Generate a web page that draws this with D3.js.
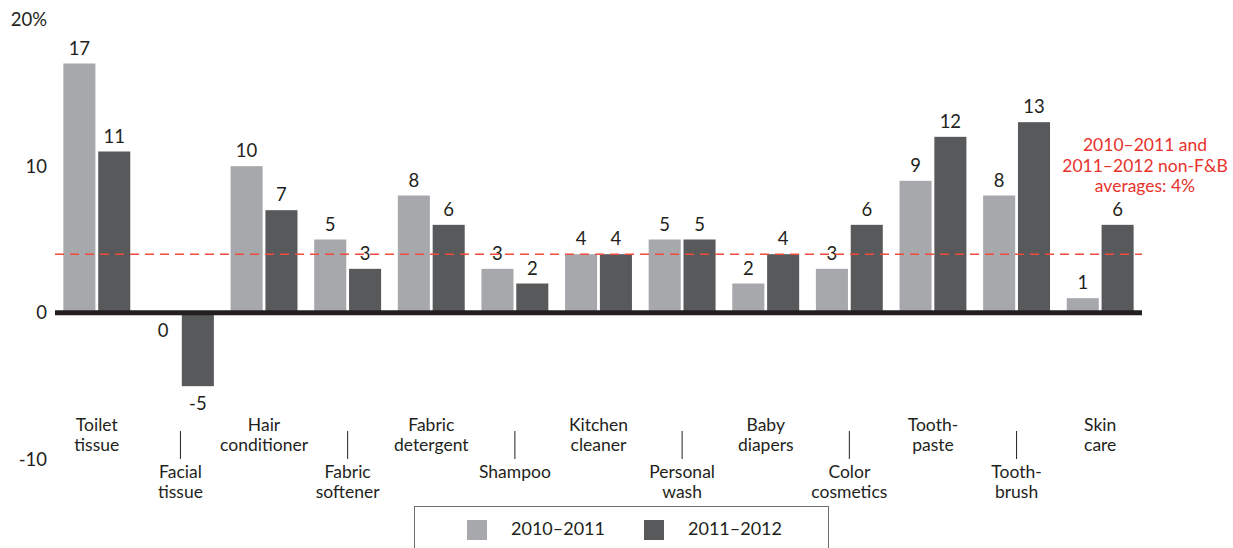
<!DOCTYPE html>
<html>
<head>
<meta charset="utf-8">
<script src="https://cdn.jsdelivr.net/npm/d3@7"></script>
<style>
  html, body { margin: 0; padding: 0; background: #fff; }
  svg { display: block; font-family: Lato, "Open Sans", sans-serif; }
</style>
</head>
<body>
<svg id="chart" width="1233" height="548"></svg>
<script>
// Annual growth by non-food & beverage category, two periods
const categories = [
  ["Toilet", "tissue"], ["Facial", "tissue"], ["Hair", "conditioner"],
  ["Fabric", "softener"], ["Fabric", "detergent"], ["Shampoo"],
  ["Kitchen", "cleaner"], ["Personal", "wash"], ["Baby", "diapers"],
  ["Color", "cosmetics"], ["Tooth-", "paste"], ["Tooth-", "brush"],
  ["Skin", "care"]
];
const seriesNames = ["2010\u20132011", "2011\u20132012"];
const growth2010_2011 = [17, 0, 10, 5, 8, 3, 4, 5, 2, 3, 9, 8, 1];
const growth2011_2012 = [11, -5, 7, 3, 6, 2, 4, 5, 4, 6, 12, 13, 6];
const averageGrowth = 4;
const yTicks = [-10, 0, 10, 20];
const noteLines = ["2010\u20132011 and", "2011\u20132012 non-F&B", "averages: 4%"];

const colors = ["#a7a8ab", "#58595b"];
const svg = d3.select("#chart");

const x = d3.scaleBand()
  .domain(d3.range(categories.length))
  .range([55, 1142])
  .paddingInner(0.2)
  .paddingOuter(0.1);

const xs = d3.scaleBand()
  .domain([0, 1])
  .range([0, x.bandwidth()])
  .paddingInner(0.08);

const y = d3.scaleLinear().domain([-10, 20]).range([459.5, 19.5]);

// plain hyphen for negatives
const fmt = v => String(Math.round(v));

const rows = categories.map((c, i) => ({
  i, vals: [growth2010_2011[i], growth2011_2012[i]]
}));

// y-axis labels (no tick marks)
const yAxis = d3.axisLeft(y).tickValues(yTicks).tickSize(0).tickPadding(0)
  .tickFormat(d => d === 20 ? "20%" : fmt(d));
const ya = svg.append("g").attr("transform", "translate(47,0)").call(yAxis);
ya.select(".domain").remove();
ya.selectAll("text").attr("font-size", 18.5).attr("fill", "#231f20")
  .attr("font-family", "Lato, sans-serif");

// bars
const groups = svg.append("g").selectAll("g").data(rows).join("g")
  .attr("transform", d => `translate(${x(d.i)},0)`);

groups.selectAll("rect").data(d => d.vals.map((v, k) => ({ v, k })))
  .join("rect")
  .attr("x", d => xs(d.k))
  .attr("width", xs.bandwidth())
  .attr("y", d => y(Math.max(0, d.v)))
  .attr("height", d => Math.abs(y(d.v) - y(0)))
  .attr("fill", d => colors[d.k]);

// value labels
groups.selectAll("text.val").data(d => d.vals.map((v, k) => ({ v, k })))
  .join("text")
  .attr("class", "val")
  .attr("x", d => xs(d.k) + xs.bandwidth() / 2)
  .attr("y", d => d.v > 0 ? y(d.v) - 9 : y(d.v) + 24)
  .attr("text-anchor", "middle")
  .attr("font-size", 18.5)
  .attr("fill", "#231f20")
  .text(d => fmt(d.v));

// average line
svg.append("line")
  .attr("x1", 55).attr("x2", 1142)
  .attr("y1", y(averageGrowth)).attr("y2", y(averageGrowth))
  .attr("stroke", "#ef4b3f").attr("stroke-width", 1.5)
  .attr("stroke-dasharray", "9,6");

// zero baseline
svg.append("line")
  .attr("x1", 55).attr("x2", 1142)
  .attr("y1", y(0)).attr("y2", y(0))
  .attr("stroke", "#231f20").attr("stroke-width", 5);

// category labels, alternating rows
const cat = svg.append("g").selectAll("g").data(categories).join("g")
  .attr("transform", (d, i) => `translate(${x(i) + x.bandwidth() / 2},0)`);

cat.filter((d, i) => i % 2 === 1).append("line")
  .attr("y1", 431).attr("y2", 459)
  .attr("stroke", "#231f20").attr("stroke-width", 1);

cat.each(function(d, i) {
  const top = i % 2 === 0 ? 431 : 478;
  d3.select(this).selectAll("text").data(d).join("text")
    .attr("y", (t, j) => top + j * 20)
    .attr("text-anchor", "middle")
    .attr("font-size", 17.5)
    .attr("fill", "#231f20")
    .text(t => t);
});

// note on the average line
svg.append("g").selectAll("text").data(noteLines).join("text")
  .attr("x", 1145)
  .attr("y", (d, j) => 151 + j * 20.5)
  .attr("text-anchor", "middle")
  .attr("font-size", 17.5)
  .attr("fill", "#e8322d")
  .text(d => d);

// legend
const lg = svg.append("g");
lg.append("rect")
  .attr("x", 414.5).attr("y", 506.5).attr("width", 414).attr("height", 60)
  .attr("fill", "none").attr("stroke", "#6d6e71").attr("stroke-width", 1);
const legendX = [467, 644];
seriesNames.forEach((name, k) => {
  lg.append("rect").attr("x", legendX[k]).attr("y", 520)
    .attr("width", 20).attr("height", 20).attr("fill", colors[k]);
  lg.append("text").attr("x", legendX[k] + 44).attr("y", 535)
    .attr("font-size", 18).attr("fill", "#231f20").text(name);
});
</script>
</body>
</html>
